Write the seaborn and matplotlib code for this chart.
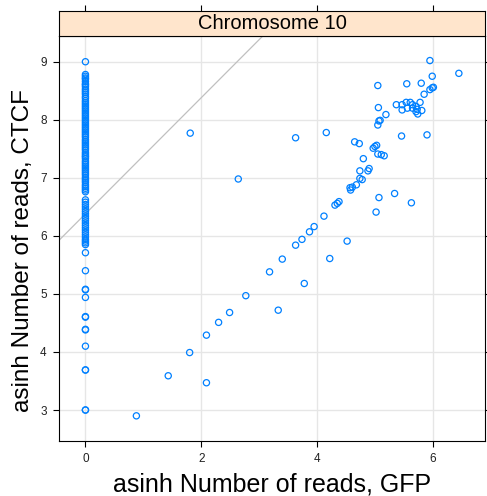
import matplotlib
matplotlib.use("Agg")
import matplotlib.pyplot as plt
import numpy as np
import pandas as pd
import seaborn as sns

# ---- data (asinh transformed read counts) ----
panel_title = "Chromosome 10"
x_label = "asinh Number of reads, GFP"
y_label = "asinh Number of reads, CTCF"
x_ticks = [0, 2, 4, 6]
y_ticks = [3, 4, 5, 6, 7, 8, 9]

# points with zero GFP reads
ctcf_at_zero_gfp = [
    9.00, 8.78, 8.75, 8.72, 8.70, 8.66, 8.62, 8.60, 8.57, 8.53, 8.50, 8.47,
    8.44, 8.40, 8.37, 8.33, 8.30, 8.27, 8.24, 8.21, 8.18, 8.15, 8.12, 8.09,
    8.06, 8.03, 8.00, 7.97, 7.94, 7.91, 7.88, 7.85, 7.82, 7.79, 7.76, 7.73,
    7.70, 7.66, 7.63, 7.60, 7.57, 7.54, 7.51, 7.48, 7.44, 7.41, 7.38, 7.36,
    7.33, 7.29, 7.26, 7.23, 7.20, 7.17, 7.14, 7.11, 7.08, 7.05, 7.01, 6.98,
    6.95, 6.92, 6.88, 6.85, 6.82, 6.79, 6.76,
    6.62, 6.58, 6.54, 6.50, 6.46, 6.42, 6.38, 6.34, 6.30, 6.26, 6.22, 6.18,
    6.14, 6.10, 6.06, 6.02, 5.98, 5.94, 5.91, 5.88, 5.85,
    5.71, 5.40, 5.08, 5.07, 4.94, 4.61, 4.60, 4.39, 4.38, 4.10, 3.69, 3.69,
    3.00, 3.00,
]

gfp_nonzero = [
    1.81, 3.63, 4.16, 2.64, 4.31, 4.35, 4.38, 4.12, 3.95, 3.87, 3.74, 3.63,
    4.52, 3.40, 4.22, 3.18, 3.78, 2.77, 2.49, 2.30, 2.09, 1.80, 3.33, 1.43,
    2.09, 0.88,
    5.95, 6.45, 5.99, 5.05, 5.55, 5.80, 5.85, 5.95, 5.99, 6.01, 5.78, 5.37,
    5.47, 5.54, 5.61, 5.65, 5.71, 5.73, 5.71, 5.74, 5.81, 5.47, 5.56, 5.65,
    5.06, 5.19, 5.09, 5.07, 5.05, 5.46, 5.90, 4.65, 4.73, 5.03, 5.00, 4.97,
    5.05, 5.11, 5.16, 4.80, 4.74, 4.90, 4.88, 4.74, 4.78, 4.68, 4.57, 4.58,
    4.61, 5.07, 5.34, 5.63, 5.02,
]
ctcf_nonzero = [
    7.77, 7.69, 7.78, 6.98, 6.53, 6.56, 6.59, 6.34, 6.16, 6.07, 5.94, 5.84,
    5.91, 5.60, 5.61, 5.38, 5.18, 4.97, 4.68, 4.51, 4.29, 3.99, 4.72, 3.59,
    3.47, 2.90,
    9.02, 8.80, 8.75, 8.59, 8.62, 8.63, 8.44, 8.52, 8.55, 8.56, 8.30, 8.26,
    8.26, 8.30, 8.30, 8.26, 8.23, 8.18, 8.14, 8.10, 8.16, 8.17, 8.20, 8.20,
    8.21, 8.09, 7.99, 7.98, 7.91, 7.72, 7.74, 7.62, 7.59, 7.56, 7.54, 7.51,
    7.41, 7.40, 7.38, 7.33, 7.12, 7.16, 7.12, 6.99, 6.97, 6.88, 6.83, 6.79,
    6.84, 6.66, 6.73, 6.57, 6.41,
]

line_intercept = 6.38
line_slope = 1.0

df = pd.DataFrame({
    "gfp": [0.0] * len(ctcf_at_zero_gfp) + gfp_nonzero,
    "ctcf": ctcf_at_zero_gfp + ctcf_nonzero,
})

# ---- style ----
sns.set_theme(style="white")
plt.rcParams["font.family"] = ["Liberation Sans", "DejaVu Sans"]

W, H = 487, 496
fig = plt.figure(figsize=(W / 100, H / 100), dpi=100)

L, R = 59.3, 485.0
T_strip, B_strip, B_ax = 11.0, 35.7, 440.7
ax = fig.add_axes([L / W, 1 - B_ax / H, (R - L) / W, (B_ax - B_strip) / H])
sax = fig.add_axes([L / W, 1 - B_strip / H, (R - L) / W, (B_strip - T_strip) / H])

xpad = 0.07 * (max(df.gfp) - min(df.gfp))
ypad = 0.07 * (max(df.ctcf) - min(df.ctcf))
xlim = (min(df.gfp) - xpad, max(df.gfp) + xpad)
ylim = (min(df.ctcf) - ypad, max(df.ctcf) + ypad)

for v in x_ticks:
    ax.axvline(v, color="#e6e6e6", lw=1.0, zorder=0)
for v in y_ticks:
    ax.axhline(v, color="#e6e6e6", lw=1.0, zorder=0)

ax.axline((0, line_intercept), slope=line_slope, color="#c0c0c0", lw=0.9, zorder=1)

sns.scatterplot(data=df, x="gfp", y="ctcf", ax=ax, marker="o", s=20,
                facecolors="none", edgecolor="#0080ff", linewidth=0.9,
                zorder=3, legend=False)

ax.set_xlim(xlim)
ax.set_ylim(ylim)
ax.set_xticks(x_ticks)
ax.set_yticks(y_ticks)
ax.set_xlabel("")
ax.set_ylabel("")
ax.grid(False)
for sp in ax.spines.values():
    sp.set_color("black")
    sp.set_linewidth(0.8)
ax.tick_params(axis="both", direction="out", length=4.5, width=0.8,
               color="black", labelsize=8.5, labelcolor="#222222", pad=4.5,
               right=True, left=True, bottom=True, top=False)
ax.tick_params(axis="y", labelright=False)

# strip
sax.set_facecolor("#ffe5cc")
sax.set_xlim(xlim)
sax.set_ylim(0, 1)
sax.set_xticks(x_ticks)
sax.set_yticks([])
sax.tick_params(axis="x", direction="out", length=4.5, width=0.8, color="black",
                top=True, bottom=False, labeltop=False, labelbottom=False)
for sp in sax.spines.values():
    sp.set_color("black")
    sp.set_linewidth(0.8)
sax.text(0.5, 0.5, panel_title, transform=sax.transAxes, ha="center",
         va="center", fontsize=14.5, color="black")

fig.text(((L + R) / 2) / W, 1 - 491.5 / H, x_label, ha="center",
         va="baseline", fontsize=18, color="black")
fig.text(23.5 / W, 1 - 250 / H, y_label, ha="center",
         va="center", rotation=90, fontsize=17.5, color="black")

fig.savefig("out.png", dpi=100)
